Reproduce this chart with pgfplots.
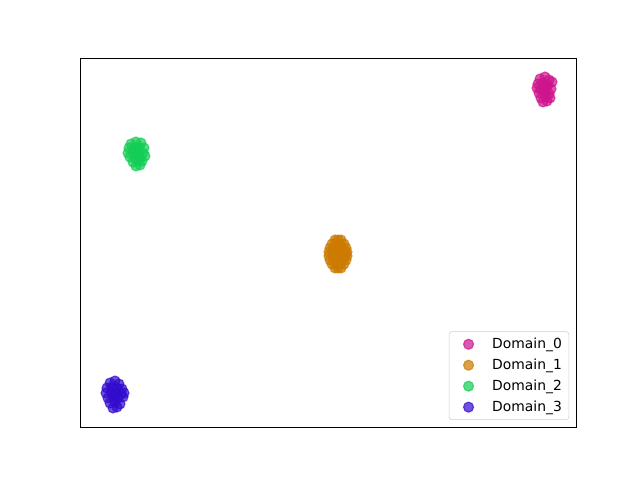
\documentclass[border=0pt]{standalone}
\usepackage{fontspec}
\setmainfont{DejaVu Sans}
\usepackage{pgfplots}
\pgfplotsset{compat=1.18}
\definecolor{c0}{RGB}{205,20,140}
\definecolor{c1}{RGB}{204,122,0}
\definecolor{c2}{RGB}{20,205,85}
\definecolor{c3}{RGB}{50,10,205}
\definecolor{lgray}{RGB}{204,204,204}
\begin{document}
\begin{tikzpicture}[x=1pt,y=1pt]
\path (-57.6,-38.16) rectangle (403.2,307.44);
\begin{axis}[at={(0,0)}, anchor=south west, scale only axis,
  width=357.12pt, height=265.68pt,
  xmin=80, xmax=576, ymin=53, ymax=422,
  ticks=none, axis line style={line width=0.6pt},
  legend cell align=left,
  legend image code/.code={\path[draw=none,fill=none] (0pt,0pt) -- (26pt,0pt); \draw[#1] plot coordinates {(11pt,0pt)};},
  legend style={at={(0.986,0.019)}, anchor=south east,
    draw=lgray, rounded corners=2pt, fill=white, fill opacity=0.8, text opacity=1,
    font=\fontsize{10}{12}\selectfont, row sep=2pt, inner xsep=3pt, inner ysep=2.5pt},
  every axis plot/.append style={only marks, mark=*, mark size=3.6pt, line width=0.8pt},
]
\addplot[mark options={draw=c0, fill=c0, opacity=0.7}] coordinates {
(540,401)(545,403)(549,400)(538,396)(543,397)(548,395)(552,398)(537,392)(541,391)(546,392)(551,391)(539,387)(544,387)(549,386)(541,382)(546,383)(550,382)(543,378)(547,379)(544,394)(545,389)};
\addlegendentry{Domain\_0}
\addplot[mark options={draw=c1, fill=c1, opacity=0.7}] coordinates {
(335,240)(338,240)(341,240)
(332,236)(336,236)(340,236)(344,236)
(330,232)(334,232)(338,232)(342,232)(346,232)
(329,228)(333,228)(337,228)(341,228)(345,228)(347,228)
(329,224)(333,224)(337,224)(341,224)(345,224)(347,224)
(330,220)(334,220)(338,220)(342,220)(346,220)
(332,216)(336,216)(340,216)(344,216)
(335,212)(338,212)(341,212)};
\addlegendentry{Domain\_1}
\addplot[mark options={draw=c2, fill=c2, opacity=0.7}] coordinates {
(131,336)(136,338)(141,337)(129,332)(134,332)(139,333)(144,332)(128,327)(133,328)(138,327)(143,327)(130,323)(135,323)(140,322)(145,324)(133,318)(138,319)(142,319)(136,314)(140,315)(137,330)};
\addlegendentry{Domain\_2}
\addplot[mark options={draw=c3, fill=c3, opacity=0.7}] coordinates {
(110,97)(115,99)(119,96)(107,92)(112,93)(117,92)(122,91)(106,87)(111,88)(116,87)(121,86)(124,87)(108,82)(113,83)(118,82)(123,83)(110,77)(115,78)(120,76)(113,72)(117,73)(114,85)};
\addlegendentry{Domain\_3}
\end{axis}
\end{tikzpicture}
\end{document}
